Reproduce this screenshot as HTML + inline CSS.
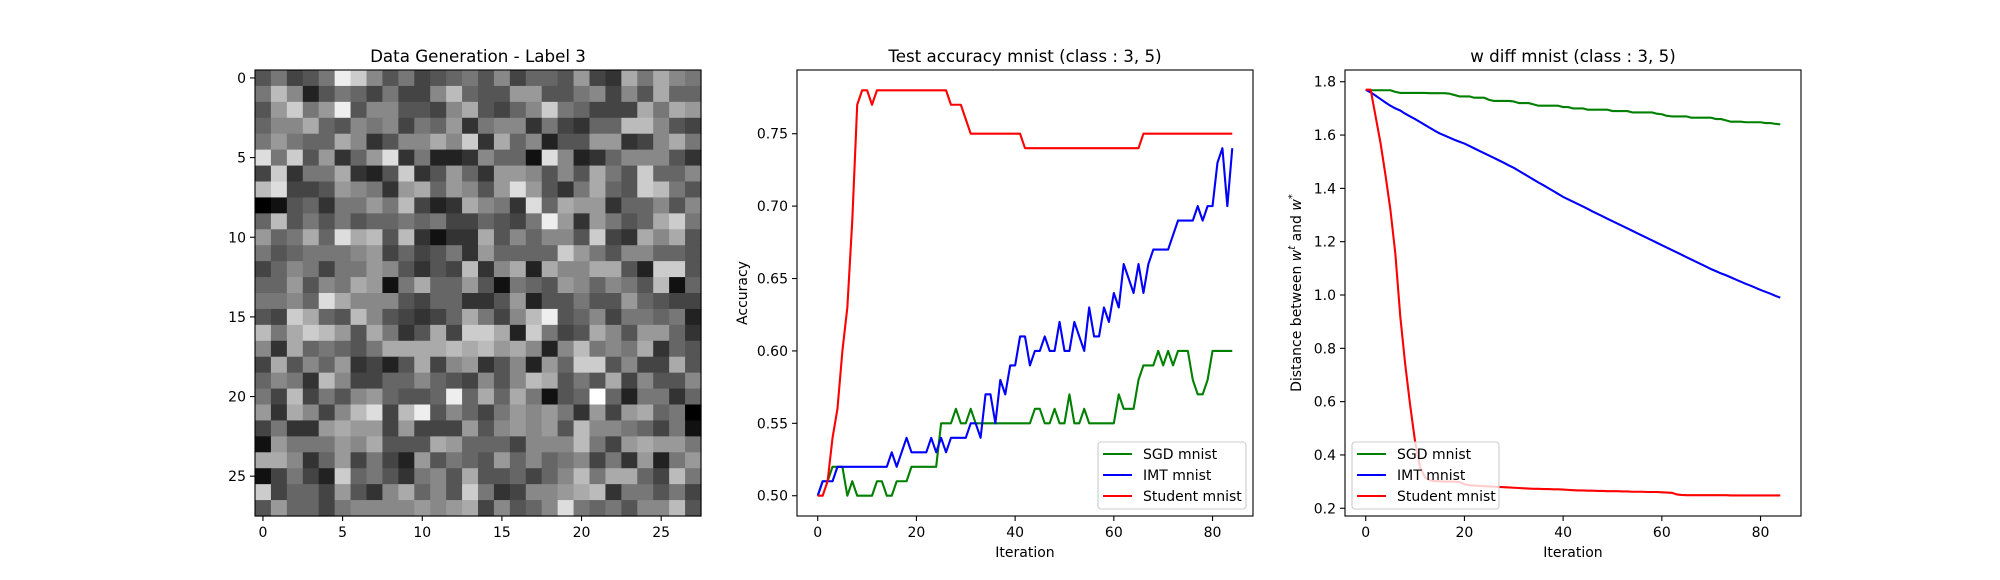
<!DOCTYPE html>
<html><head><meta charset="utf-8"><style>
body{margin:0;background:#fff;}
svg{display:block;font-family:"DejaVu Sans","Liberation Sans",sans-serif;}
</style></head><body>
<svg id="fig" width="2000" height="580" viewBox="0 0 2000 580"></svg>
<script>
// ---------- data ----------
const imgRows = [
"57457ec8574567584665943a7a87","7b8257647448b655995578485a66","59c79e5885548a5468c76444a7a99",
"688a6587847693788374366bb854".slice(0,28),"7976 6a8358 8a8c3a6825599348a7".replace(/ /g,"").slice(0,28),
"d7c59369d37223866 1d823688853".replace(/ /g,"").slice(0,28),"4c377a325c35963998585a75c668",
"bd44598739a69859d953 7a65cb75".replace(/ /g,"").slice(0,28),"01563779 7b423a873d6a99366858".replace(/ /g,"").slice(0,28),
"6b5757566767446547e939756ac7","967a6dab5b3133a5868 85c43a8a55".replace(/ /g,"").slice(0,28),"7567778946457396666c97588665",
"46874779853 54b38a2a88aa52cc5".replace(/ /g,"").slice(0,28),"6695 87a917a6695176598687 5b16".replace(/ /g,"").slice(0,28),
"7786da8885466 33592557559654 4".replace(/ /g,"").slice(0,28),"54ca65b85434 6a748be568477672".replace(/ /g,"").slice(0,28),
"b7acb95a735a4cca2c745a859963","83a6765 7aaaabab9a828b787a3657".replace(/ /g,"").slice(0,28),
"4a58693425a489358296cc58 44a5".replace(/ /g,"").slice(0,28),"68 73b84466865485 8ba575a48558".replace(/ /g,"").slice(0,28),
"74b47589655 6e6a6a7156f627736".replace(/ /g,"").slice(0,28),"93a848bd4be586479897394 9a670".replace(/ /g,"").slice(0,28),
"4733 9a994944495898 95b887647 1".replace(/ /g,"").slice(0,28),"1977798a555a9666488 8b749a997".replace(/ /g,"").slice(0,28),
"aa83694742957659686784739279","1474 2c67537 85a556468b7aa64b7".replace(/ /g,"").slice(0,28),
"c4664953 8a685c73488 9ab37757 4".replace(/ /g,"").slice(0,28),"596647888898 9a48568d767588b5".replace(/ /g,"").slice(0,28)
];
const iterations = Array.from({length:85},(_,i)=>i);
const xTicks = [0,20,40,60,80];
const accTicks = [0.50,0.55,0.60,0.65,0.70,0.75];
const accTickLabels = ["0.50","0.55","0.60","0.65","0.70","0.75"];
const distTicks = [0.2,0.4,0.6,0.8,1.0,1.2,1.4,1.6,1.8];
const distTickLabels = ["0.2","0.4","0.6","0.8","1.0","1.2","1.4","1.6","1.8"];
const imgTicks = [0,5,10,15,20,25];

const accSGD = [.50,.51,.51,.52,.52,.52,.50,.51,.50,.50,.50,.50,.51,.51,.50,.50,.51,.51,.51,.52,
.52,.52,.52,.52,.52,.55,.55,.55,.56,.55,.55,.56,.55,.55,.55,.55,.55,.55,.55,.55,
.55,.55,.55,.55,.56,.56,.55,.55,.56,.55,.55,.57,.55,.55,.56,.55,.55,.55,.55,.55,
.55,.57,.56,.56,.56,.58,.59,.59,.59,.60,.59,.60,.59,.60,.60,.60,.58,.57,.57,.58,
.60,.60,.60,.60,.60];
const accIMT = [.50,.51,.51,.51,.52,.52,.52,.52,.52,.52,.52,.52,.52,.52,.52,.53,.52,.53,.54,.53,
.53,.53,.53,.54,.53,.54,.53,.54,.54,.54,.54,.55,.55,.54,.57,.57,.55,.58,.57,.59,
.59,.61,.61,.59,.60,.60,.61,.60,.60,.62,.60,.60,.62,.61,.60,.63,.61,.61,.63,.62,
.64,.63,.66,.65,.64,.66,.64,.66,.67,.67,.67,.67,.68,.69,.69,.69,.69,.70,.69,.70,
.70,.73,.74,.70,.74];
const accStudent = [.50,.50,.51,.54,.56,.60,.63,.69,.77,.78,.78,.77,.78,.78,.78,.78,.78,.78,.78,.78,
.78,.78,.78,.78,.78,.78,.78,.77,.77,.77,.76,.75,.75,.75,.75,.75,.75,.75,.75,.75,
.75,.75,.74,.74,.74,.74,.74,.74,.74,.74,.74,.74,.74,.74,.74,.74,.74,.74,.74,.74,
.74,.74,.74,.74,.74,.74,.75,.75,.75,.75,.75,.75,.75,.75,.75,.75,.75,.75,.75,.75,
.75,.75,.75,.75,.75];

const distSGD = [1.768,1.768,1.768,1.768,1.768,1.768,1.762,1.758,1.758,1.758,1.758,1.758,1.758,1.757,1.757,1.757,1.757,1.755,1.75,1.745,
1.745,1.745,1.74,1.74,1.74,1.732,1.728,1.728,1.728,1.728,1.726,1.72,1.72,1.72,1.715,1.71,1.71,1.71,1.71,1.71,
1.705,1.705,1.70,1.70,1.70,1.695,1.695,1.695,1.695,1.695,1.69,1.69,1.69,1.69,1.685,1.685,1.685,1.685,1.685,1.68,
1.678,1.672,1.67,1.67,1.67,1.67,1.665,1.665,1.665,1.665,1.665,1.66,1.66,1.655,1.65,1.65,1.65,1.648,1.648,1.648,
1.648,1.645,1.645,1.642,1.64];
const distIMT = [1.77,1.76,1.748,1.735,1.722,1.71,1.70,1.692,1.68,1.67,1.66,1.649,1.638,1.627,1.616,1.606,1.598,1.59,1.582,1.575,
1.568,1.559,1.55,1.541,1.532,1.523,1.514,1.505,1.496,1.486,1.477,1.466,1.455,1.444,1.433,1.422,1.412,1.401,1.39,1.379,
1.368,1.359,1.35,1.341,1.332,1.323,1.313,1.304,1.295,1.286,1.277,1.268,1.259,1.25,1.241,1.232,1.223,1.214,1.205,1.196,
1.187,1.178,1.169,1.16,1.151,1.142,1.133,1.124,1.115,1.106,1.097,1.089,1.081,1.074,1.066,1.058,1.05,1.042,1.035,1.027,
1.019,1.012,1.005,0.997,0.99];
const distStudent = [1.77,1.77,1.67,1.57,1.45,1.32,1.155,0.92,0.74,0.587,0.45,0.355,0.316,0.305,0.302,0.301,0.30,0.30,0.30,0.298,
0.29,0.287,0.285,0.284,0.283,0.282,0.281,0.28,0.279,0.278,0.277,0.276,0.275,0.274,0.273,0.273,0.272,0.272,0.271,0.271,
0.27,0.269,0.268,0.267,0.267,0.266,0.266,0.265,0.265,0.264,0.264,0.264,0.263,0.263,0.262,0.262,0.262,0.261,0.261,0.261,
0.26,0.259,0.258,0.252,0.25,0.249,0.249,0.249,0.249,0.249,0.249,0.249,0.249,0.249,0.248,0.248,0.248,0.248,0.248,0.248,
0.248,0.248,0.248,0.248,0.248];
const seriesNames = ["SGD mnist","IMT mnist","Student mnist"];
const seriesColors = ["#008000","#0000ff","#ff0000"];

// ---------- helpers ----------
const NS="http://www.w3.org/2000/svg";
const svg=document.getElementById('fig');
function mk(tag,attrs,parent,text){const e=document.createElementNS(NS,tag);for(const k in attrs)e.setAttribute(k,attrs[k]);if(text!==undefined)e.textContent=text;(parent||svg).appendChild(e);return e;}
const TOP=70,BOT=516;

function lineAxes(name,L,R,xmin,xmax,ymin,ymax,yTicks,yLabels,title,ylabel,series){
  const g=mk('g',{},svg);
  
  
  const sx=v=>L+(v-xmin)/(xmax-xmin)*(R-L);
  const sy=v=>BOT-(v-ymin)/(ymax-ymin)*(BOT-TOP);
  series.forEach((s,k)=>{
    const d=s.map((v,i)=>(i?'L':'M')+sx(iterations[i]).toFixed(2)+','+sy(v).toFixed(2)).join('');
    const p=mk('path',{d:d,fill:'none',stroke:seriesColors[k],'stroke-width':2.1,'stroke-linejoin':'round'},g);
    
    
  });
  mk('rect',{x:L,y:TOP,width:R-L,height:BOT-TOP,fill:'none',stroke:'#000','stroke-width':1.1},g);
  xTicks.forEach(t=>{const x=sx(t);
    mk('line',{x1:x,x2:x,y1:BOT,y2:BOT+5,stroke:'#000','stroke-width':1.1},g);
    const tl=mk('text',{x:x,y:BOT+21,'text-anchor':'middle','font-size':14},g,String(t));
    
    
  });
  yTicks.forEach((t,i)=>{const y=sy(t);
    mk('line',{x1:L-5,x2:L,y1:y,y2:y,stroke:'#000','stroke-width':1.1},g);
    const tl=mk('text',{x:L-9,y:y+5,'text-anchor':'end','font-size':14},g,yLabels[i]);
    
    
  });
  const xt=mk('text',{x:(L+R)/2,y:BOT+41,'text-anchor':'middle','font-size':14},g,'Iteration');
  
  
  const tt=mk('text',{x:(L+R)/2,y:TOP-8,'text-anchor':'middle','font-size':16.7},g,title);
  
  
  const yl=mk('text',{x:0,y:0,'text-anchor':'middle','font-size':14,transform:`translate(${ylabel.x},${(TOP+BOT)/2}) rotate(-90)`},g);
  
  
  ylabel.build(yl);
  // legend
  const lg=mk('g',{},g);
  
  
  const lx=ylabel.legendX, lw=ylabel.legendW;
  mk('rect',{x:lx,y:442,width:lw,height:67,rx:3,fill:'#fff','fill-opacity':0.8,stroke:'#cccccc','stroke-width':1.1},lg);
  seriesNames.forEach((n,k)=>{const y=454+k*21;
    mk('line',{x1:lx+5,x2:lx+34,y1:y,y2:y,stroke:seriesColors[k],'stroke-width':2.1},lg);
    const t=mk('text',{x:lx+45,y:y+5,'font-size':14},lg,n);
    
    
  });
}

// ---------- image panel ----------
(function(){
  const g=mk('g',{},svg);
  
  
  const L=255,S=446/28;
  imgRows.forEach((row,r)=>{
    for(let c=0;c<28;c++){
      const d=parseInt(row[c]||'7',16);const v=d*17;
      mk('rect',{x:(L+c*S).toFixed(2),y:(TOP+r*S).toFixed(2),width:(S+0.6).toFixed(2),height:(S+0.6).toFixed(2),fill:`rgb(${v},${v},${v})`},g);
    }
  });
  mk('rect',{x:L,y:TOP,width:446,height:446,fill:'none',stroke:'#000','stroke-width':1.1},g);
  imgTicks.forEach(t=>{const p=L+(t+0.5)*S, q=TOP+(t+0.5)*S;
    mk('line',{x1:p,x2:p,y1:BOT,y2:BOT+5,stroke:'#000','stroke-width':1.1},g);
    const a=mk('text',{x:p,y:BOT+21,'text-anchor':'middle','font-size':14},g,String(t));
    
    
    mk('line',{x1:L-5,x2:L,y1:q,y2:q,stroke:'#000','stroke-width':1.1},g);
    const b=mk('text',{x:L-9,y:q+5,'text-anchor':'end','font-size':14},g,String(t));
    
    
  });
  const tt=mk('text',{x:L+223,y:TOP-8,'text-anchor':'middle','font-size':16.7},g,'Data Generation - Label 3');
  
  
})();

lineAxes('accuracy-chart',797,1253,-4.2,88.2,0.486,0.794,accTicks,accTickLabels,
  'Test accuracy mnist (class : 3, 5)',
  {x:747,legendX:1098,legendW:148,build:e=>{e.textContent='Accuracy';}},
  [accSGD,accIMT,accStudent]);

lineAxes('w-diff-chart',1345,1801,-4.2,88.2,0.171,1.844,distTicks,distTickLabels,
  'w diff mnist (class : 3, 5)',
  {x:1301,legendX:1352,legendW:147,build:e=>{
    e.appendChild(document.createTextNode('Distance between '));
    const a=mk('tspan',{'font-style':'italic'},e,'w');
    const b=mk('tspan',{dy:-6,'font-size':10,'font-style':'italic'},e,'t');
    const c=mk('tspan',{dy:6},e,' and ');
    const d=mk('tspan',{'font-style':'italic'},e,'w');
    const f=mk('tspan',{dy:-6,'font-size':10},e,'*');
  }},
  [distSGD,distIMT,distStudent]);
</script>
</body></html>
